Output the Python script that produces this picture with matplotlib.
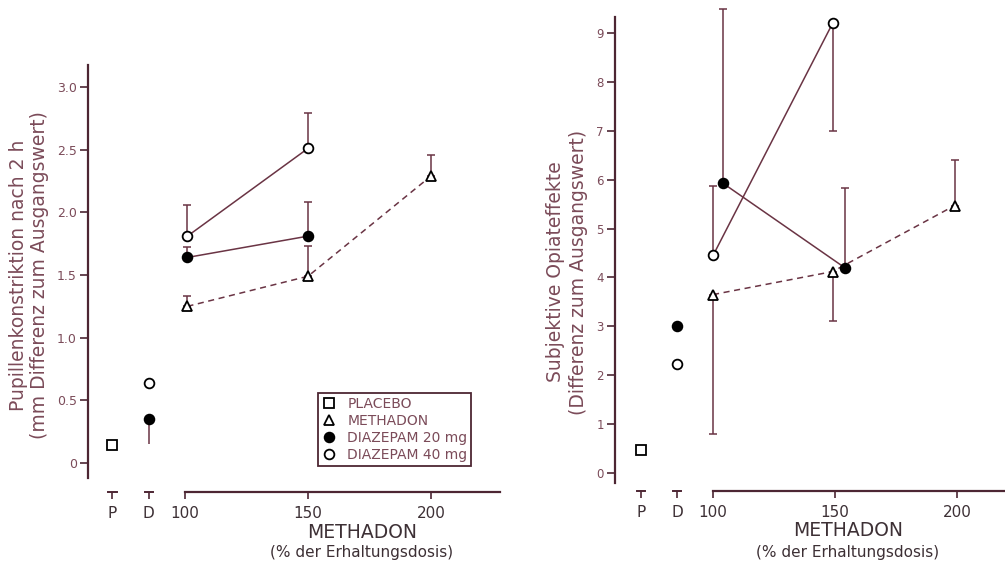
"""
Pupillenkonstriktion und subjektive Opiateffekte unter Methadon +/- Diazepam.
Zwei Panels, gemeinsame x-Achse (P, D, 100-200 % der Erhaltungsdosis).
"""
import matplotlib
matplotlib.use("Agg")
import matplotlib.pyplot as plt
from matplotlib.lines import Line2D

# ---------- Daten ----------
POS_P, POS_D = 70.5, 85.3
xtick_pos = [POS_P, POS_D, 100, 150, 200]
xtick_lab = ["P", "D", "100", "150", "200"]

# Panel links: Pupillenkonstriktion (mm)
pup_placebo = 0.14
pup_d20_D, pup_d20_D_err = 0.35, 0.20
pup_d40_D = 0.64
pup_meth_x = [101, 150, 200]
pup_meth_y = [1.25, 1.49, 2.29]
pup_meth_lo = [0.0, 0.0, 0.0]
pup_meth_hi = [0.08, 0.24, 0.17]
pup_d20_x = [101, 150]
pup_d20_y = [1.64, 1.81]
pup_d20_lo = [0.0, 0.0]
pup_d20_hi = [0.08, 0.27]
pup_d40_x = [101, 150]
pup_d40_y = [1.81, 2.51]
pup_d40_lo = [0.0, 0.0]
pup_d40_hi = [0.25, 0.28]

# Panel rechts: subjektive Opiateffekte
opi_placebo = 0.46
opi_d20_D = 3.0
opi_d40_D = 2.22
opi_meth_x = [100, 149, 199]
opi_meth_y = [3.65, 4.12, 5.47]
opi_meth_lo = [2.85, 1.02, 0.0]
opi_meth_hi = [0.0, 0.0, 0.93]
opi_d20_x = [104, 154]
opi_d20_y = [5.93, 4.20]
opi_d20_lo = [0.0, 0.0]
opi_d20_hi = [3.57, 1.63]
opi_d40_x = [100, 149]
opi_d40_y = [4.45, 9.20]
opi_d40_lo = [0.0, 2.20]
opi_d40_hi = [1.43, 0.0]

pup_yticks = [0, 0.5, 1.0, 1.5, 2.0, 2.5, 3.0]
pup_ylabs = ["0", "0.5", "1.0", "1.5", "2.0", "2.5", "3.0"]
opi_yticks = list(range(10))

# ---------- Stil ----------
AX = "#4d2633"
TXT = "#7b4b59"
XTXT = "#3d3035"
LINE = "#6a3444"
W, H = 1005, 566

plt.rcParams["font.family"] = ["DejaVu Sans"]

fig = plt.figure(figsize=(W / 100, H / 100), dpi=100)


def px_axes(x0, x1, y_top, y_bot):
    return fig.add_axes([x0 / W, (H - y_bot) / H, (x1 - x0) / W, (y_bot - y_top) / H])


def marker(ax, x, y, m, filled, **kw):
    ax.plot(x, y, linestyle="none", marker=m, ms=7, mec="black", mew=1.3,
            mfc="black" if filled else "white", zorder=5, clip_on=False, **kw)


def serie(ax, x, y, lo, hi, m, filled, ls):
    ax.plot(x, y, color=LINE, lw=1.1, ls=ls, zorder=3, clip_on=False,
            dashes=(4, 3) if ls == "--" else (None, None))
    ax.errorbar(x, y, yerr=[lo, hi], fmt="none", ecolor=LINE, elinewidth=1.1,
                capsize=3, capthick=1.1, zorder=2, clip_on=False)
    marker(ax, x, y, m, filled)


def achsen(ax, xlim, ylim, spine_top, yticks, ylabs, xend, yfs):
    ax.set_xlim(*xlim)
    ax.set_ylim(*ylim)
    for s in ("top", "right"):
        ax.spines[s].set_visible(False)
    ax.spines["left"].set_bounds(ylim[0] + spine_top[0], spine_top[1])
    ax.spines["bottom"].set_bounds(100, xend)
    for s in ("left", "bottom"):
        ax.spines[s].set_color(AX)
        ax.spines[s].set_linewidth(1.6)
    ax.set_yticks(yticks, ylabs)
    ax.set_xticks(xtick_pos, xtick_lab)
    ax.tick_params(axis="y", length=6, width=1.2, color=AX, labelcolor=TXT,
                   labelsize=yfs, pad=2)
    ax.tick_params(axis="x", length=5, width=1.2, color=AX, labelcolor=XTXT,
                   labelsize=11, pad=5)
    # kleine T-Markierungen bei P und D
    for xp in (POS_P, POS_D):
        ax.plot([xp - 1.7, xp + 1.7], [ylim[0], ylim[0]], color=AX, lw=1.4,
                clip_on=False)


# ---------- Panel links ----------
ax1 = px_axes(88, 500, 65, 492)
achsen(ax1, (60.6, 228), (-0.231, 3.175), (0.111, 3.175),
       pup_yticks, pup_ylabs, 228, 9)
serie(ax1, pup_meth_x, pup_meth_y, pup_meth_lo, pup_meth_hi, "^", False, "--")
serie(ax1, pup_d20_x, pup_d20_y, pup_d20_lo, pup_d20_hi, "o", True, "-")
serie(ax1, pup_d40_x, pup_d40_y, pup_d40_lo, pup_d40_hi, "o", False, "-")
ax1.errorbar([POS_D], [pup_d20_D], yerr=[[pup_d20_D_err], [0]], fmt="none",
             ecolor=LINE, elinewidth=1.1, capsize=0)
marker(ax1, [POS_P], [pup_placebo], "s", False)
marker(ax1, [POS_D], [pup_d20_D], "o", True)
marker(ax1, [POS_D], [pup_d40_D], "o", False)

handles = [
    Line2D([], [], ls="none", marker="s", ms=7, mec="black", mfc="white", mew=1.3),
    Line2D([], [], ls="none", marker="^", ms=7, mec="black", mfc="white", mew=1.3),
    Line2D([], [], ls="none", marker="o", ms=7, mec="black", mfc="black", mew=1.3),
    Line2D([], [], ls="none", marker="o", ms=7, mec="black", mfc="white", mew=1.3),
]
leg = fig.legend(handles, ["PLACEBO", "METHADON", "DIAZEPAM 20 mg", "DIAZEPAM 40 mg"],
                 loc="upper left", bbox_to_anchor=(318 / W, 1 - 393 / H),
                 borderaxespad=0, fontsize=10, labelspacing=0.2, handletextpad=0.8,
                 handlelength=1.0, borderpad=0.3, fancybox=False, framealpha=1,
                 edgecolor=AX, labelcolor=TXT)
leg.get_frame().set_linewidth(1.3)

# ---------- Panel rechts ----------
ax2 = px_axes(615, 1005, 17, 491)
achsen(ax2, (59.8, 219.7), (-0.37, 9.33), (0.17, 9.33),
       opi_yticks, [str(v) for v in opi_yticks], 219.7, 8.5)
serie(ax2, opi_meth_x, opi_meth_y, opi_meth_lo, opi_meth_hi, "^", False, "--")
serie(ax2, opi_d20_x, opi_d20_y, opi_d20_lo, opi_d20_hi, "o", True, "-")
serie(ax2, opi_d40_x, opi_d40_y, opi_d40_lo, opi_d40_hi, "o", False, "-")
marker(ax2, [POS_P], [opi_placebo], "s", False)
marker(ax2, [POS_D], [opi_d20_D], "o", True)
marker(ax2, [POS_D], [opi_d40_D], "o", False)

# ---------- Beschriftungen ----------
fig.text(29 / W, 1 - 275 / H,
         "Pupillenkonstriktion nach 2 h\n(mm Differenz zum Ausgangswert)",
         rotation=90, ha="center", va="center", ma="center", fontsize=13.5,
         color=TXT, linespacing=1.1)
fig.text(567 / W, 1 - 272 / H,
         "Subjektive Opiateffekte\n(Differenz zum Ausgangswert)",
         rotation=90, ha="center", va="center", ma="center", fontsize=13.5,
         color=TXT, linespacing=1.25)
for xc, y1, y2 in ((362, 533, 553), (848, 530, 552)):
    fig.text(xc / W, 1 - y1 / H, "METHADON", ha="center", va="center",
             fontsize=13.5, color=XTXT)
    fig.text(xc / W, 1 - y2 / H, "(% der Erhaltungsdosis)", ha="center",
             va="center", fontsize=11, color=XTXT)

fig.savefig("out.png", dpi=100)
